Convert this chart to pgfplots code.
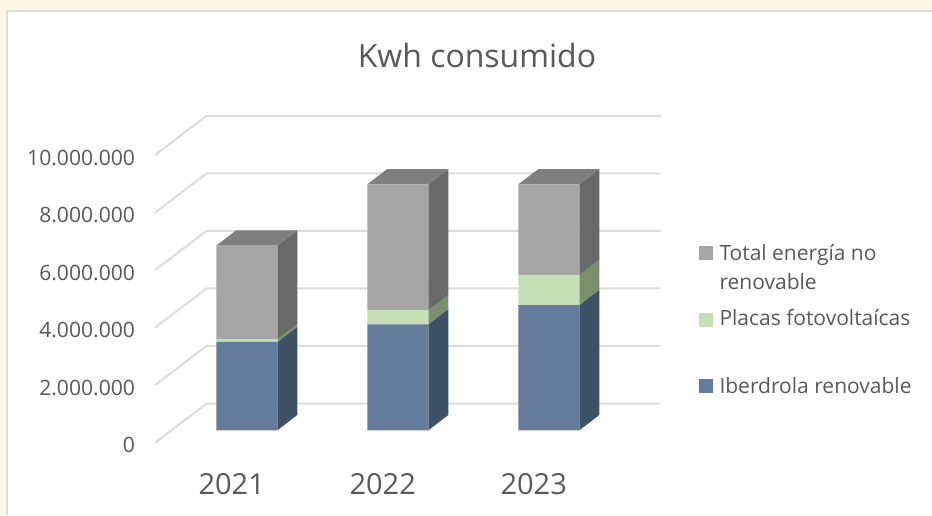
\documentclass[border=0pt]{standalone}
\usepackage{fontspec}
\setmainfont{Open Sans}
\usepackage{pgfplots}
\pgfplotsset{compat=1.18}
\definecolor{txt}{HTML}{595959}
\definecolor{gridc}{HTML}{DCDCDC}
\definecolor{cream}{HTML}{FFF7E6}
\definecolor{bluef}{HTML}{647C9C}
\definecolor{blues}{HTML}{3F5167}
\definecolor{greenf}{HTML}{C5E0B4}
\definecolor{greens}{HTML}{7A8F6C}
\definecolor{greyf}{HTML}{A5A5A5}
\definecolor{greys}{HTML}{696969}
\definecolor{greyt}{HTML}{7F7F7F}
\pgfplotsset{
  base/.style={
    at={(155pt,72.3pt)}, anchor=south west,
    scale only axis, width=505.7pt, height=326.7pt,
    xmin=-0.608, xmax=2.741, clip=false
  },
  side/.style={fill=#1, draw=none, forget plot}
}
\begin{document}
\begin{tikzpicture}[x=1pt,y=1pt]
\path[use as bounding box] (0,0) rectangle (932,515);
\fill[cream] (0,0) rectangle (932,515);
\fill[gridc] (6,0) rectangle (932,505);
\fill[white] (8,0) rectangle (932,503);

% walls, ticks and gridlines
\begin{axis}[base,
  ymin=0, ymax=11356000,
  axis line style={draw=none}, tick style={draw=none},
  ytick={0,2000000,4000000,6000000,8000000,10000000},
  scaled y ticks=false,
  /pgf/number format/.cd, fixed, 1000 sep={.}, assume math mode=true,
  /pgfplots/.cd,
  yticklabel style={font=\fontsize{21.1}{23}\selectfont, text=txt, anchor=east, xshift=-16.5pt, yshift=-2.5pt},
  xtick={-0.1,0.9,1.9},
  xticklabels={2021,2022,2023},
  xticklabel style={font=\fontsize{29}{31}\selectfont, text=txt, anchor=center, yshift=-41.5pt},
  title={Kwh consumido},
  title style={at={(axis description cs:0.6367,1.1668)}, anchor=center, font=\fontsize{32}{35}\selectfont, text=txt}
]
\addplot[gridc,line width=2pt] coordinates {(-0.608,0) (-0.266,1362500) (2.741,1362500)};
\addplot[gridc,line width=2pt] coordinates {(-0.608,2000000) (-0.266,3362500) (2.741,3362500)};
\addplot[gridc,line width=2pt] coordinates {(-0.608,4000000) (-0.266,5362500) (2.741,5362500)};
\addplot[gridc,line width=2pt] coordinates {(-0.608,6000000) (-0.266,7362500) (2.741,7362500)};
\addplot[gridc,line width=2pt] coordinates {(-0.608,8000000) (-0.266,9362500) (2.741,9362500)};
\addplot[gridc,line width=2pt] coordinates {(-0.608,10000000) (-0.266,11362500) (2.741,11362500)};
\end{axis}

% side and top faces of the bars (x = right edge of bar, depth 0.1325 / 532000)
\begin{axis}[base, ymin=-431000, ymax=10925000, hide axis]
% 2021
\addplot[side=blues]  coordinates {(0.202,0) (0.3345,532000) (0.3345,3602000) (0.202,3070000)} --cycle;
\addplot[side=greens] coordinates {(0.202,3070000) (0.3345,3602000) (0.3345,3697000) (0.202,3165000)} --cycle;
\addplot[side=greys]  coordinates {(0.202,3165000) (0.3345,3697000) (0.3345,6952000) (0.202,6420000)} --cycle;
\addplot[side=greyt]  coordinates {(-0.202,6420000) (0.202,6420000) (0.3345,6952000) (-0.0695,6952000)} --cycle;
% 2022
\addplot[side=blues]  coordinates {(1.202,0) (1.3345,532000) (1.3345,4216000) (1.202,3684000)} --cycle;
\addplot[side=greens] coordinates {(1.202,3684000) (1.3345,4216000) (1.3345,4703000) (1.202,4171000)} --cycle;
\addplot[side=greys]  coordinates {(1.202,4171000) (1.3345,4703000) (1.3345,9082000) (1.202,8550000)} --cycle;
\addplot[side=greyt]  coordinates {(0.798,8550000) (1.202,8550000) (1.3345,9082000) (0.9305,9082000)} --cycle;
% 2023
\addplot[side=blues]  coordinates {(2.202,0) (2.3345,532000) (2.3345,4887000) (2.202,4355000)} --cycle;
\addplot[side=greens] coordinates {(2.202,4355000) (2.3345,4887000) (2.3345,5930000) (2.202,5398000)} --cycle;
\addplot[side=greys]  coordinates {(2.202,5398000) (2.3345,5930000) (2.3345,9082000) (2.202,8550000)} --cycle;
\addplot[side=greyt]  coordinates {(1.798,8550000) (2.202,8550000) (2.3345,9082000) (1.9305,9082000)} --cycle;
\end{axis}

% front faces
\begin{axis}[base, ymin=-431000, ymax=10925000, hide axis,
  ybar stacked, bar width=61pt]
\addplot[fill=bluef, draw=none]  coordinates {(0,3070000) (1,3684000) (2,4355000)};
\addplot[fill=greenf, draw=none] coordinates {(0,95000) (1,487000) (2,1043000)};
\addplot[fill=greyf, draw=none]  coordinates {(0,3255000) (1,4379000) (2,3152000)};
\end{axis}

% legend
\fill[greyf]  (699,255) rectangle +(14,14);
\fill[greenf] (699,188) rectangle +(14,14);
\fill[bluef]  (699,122) rectangle +(14,14);
\begin{scope}[every node/.style={anchor=west, inner sep=0pt, text=txt, font=\fontsize{21}{23}\selectfont}]
\node at (719.3,260) {Total energía no};
\node at (719.3,233) {renovable};
\node at (719.3,197) {Placas fotovoltaícas};
\node at (719.3,129) {Iberdrola renovable};
\end{scope}
\end{tikzpicture}
\end{document}
